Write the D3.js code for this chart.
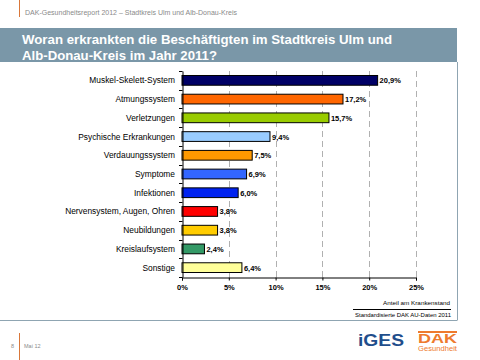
<!DOCTYPE html>
<html><head><meta charset="utf-8">
<script src="https://cdn.jsdelivr.net/npm/d3@7"></script>
<style>
html,body{margin:0;padding:0;background:#fff;}
svg{display:block;font-family:"Liberation Sans",Arial,sans-serif;}
</style></head>
<body>
<svg id="c" width="480" height="360"></svg>
<script>
const categories = ["Muskel-Skelett-System","Atmungssystem","Verletzungen","Psychische Erkrankungen","Verdauungssystem","Symptome","Infektionen","Nervensystem, Augen, Ohren","Neubildungen","Kreislaufsystem","Sonstige"];
const values = [20.9,17.2,15.7,9.4,7.5,6.9,6.0,3.8,3.8,2.4,6.4];
const colors = ["#000066","#FF6600","#99CC00","#99CCFF","#FF9900","#3366FF","#0022F0","#FF0000","#FFCC00","#339966","#FFFF99"];
const ticks = [0,5,10,15,20,25];
const titleLines = ["Woran erkrankten die Beschäftigten im Stadtkreis Ulm und","Alb-Donau-Kreis im Jahr 2011?"];
const headerText = "DAK-Gesundheitsreport 2012 – Stadtkreis Ulm und Alb-Donau-Kreis";
const noteTop = "Anteil am Krankenstand";
const noteBottom = "Standardisierte DAK AU-Daten 2011";

const svg = d3.select("#c");
const fmt = v => d3.format(".1f")(v).replace(".", ",") + "%";

// header
svg.append("line").attr("x1",19.5).attr("x2",19.5).attr("y1",0).attr("y2",17).attr("stroke","#d9773a").attr("stroke-width",1);
svg.append("text").attr("x",25).attr("y",15).attr("font-size",6.5).attr("fill","#8a8a8a")
  .attr("textLength",212).attr("lengthAdjust","spacingAndGlyphs").text(headerText);

// title band
svg.append("rect").attr("x",0).attr("y",28).attr("width",457).attr("height",34).attr("fill","#7a97a8");
svg.selectAll("text.title").data(titleLines).join("text").attr("class","title")
  .attr("x",22).attr("y",(d,i)=>44+i*16).attr("font-size",13).attr("font-weight","bold").attr("fill","#fff")
  .attr("textLength",(d,i)=>i===0?370:195).attr("lengthAdjust","spacingAndGlyphs").text(d=>d);

// frame lines
svg.append("line").attr("x1",457.5).attr("x2",457.5).attr("y1",62).attr("y2",320).attr("stroke","#8fa5b2");
svg.append("line").attr("x1",0).attr("x2",457.5).attr("y1",320.5).attr("y2",320.5).attr("stroke","#8fa5b2");

// chart
const x = d3.scaleLinear().domain([0,25]).range([182,416]);
const y = d3.scaleBand().domain(categories).range([71,277]).paddingInner(0.48).paddingOuter(0.24);

// grid
svg.append("g").selectAll("line").data(ticks.slice(1)).join("line")
  .attr("x1",d=>Math.round(x(d))+0.5).attr("x2",d=>Math.round(x(d))+0.5).attr("y1",71).attr("y2",277)
  .attr("stroke","#b0b0b0").attr("stroke-dasharray","6,4");

// bars
svg.append("g").selectAll("rect").data(values).join("rect")
  .attr("x",x(0)).attr("y",(d,i)=>y(categories[i])).attr("width",d=>x(d)-x(0)).attr("height",y.bandwidth())
  .attr("fill",(d,i)=>colors[i]).attr("stroke","#000").attr("stroke-width",1);

// value labels
svg.append("g").selectAll("text").data(values).join("text")
  .attr("x",d=>x(d)+2).attr("y",(d,i)=>y(categories[i])+y.bandwidth()/2+3)
  .attr("font-size",7.5).attr("font-weight","bold").attr("fill","#000").text(d=>fmt(d));

// y axis
const yAxis = d3.axisLeft(y).tickSize(0).tickFormat("");
const gy = svg.append("g").attr("transform","translate(182.5,0)").call(yAxis);
gy.select(".domain").attr("stroke","#000");
const bounds = categories.map(c=>y(c)-y.step()*y.paddingInner()/2).concat([277]);
svg.append("g").selectAll("line").data(bounds).join("line")
  .attr("x1",179).attr("x2",182.5).attr("y1",d=>Math.round(d)+0.5).attr("y2",d=>Math.round(d)+0.5).attr("stroke","#000");
svg.append("g").selectAll("text").data(categories).join("text")
  .attr("x",175).attr("y",c=>y(c)+y.bandwidth()/2+3).attr("text-anchor","end")
  .attr("font-size",8.4).attr("fill","#000").text(c=>c);

// x axis
const xAxis = d3.axisBottom(x).tickValues(ticks).tickSize(3).tickFormat(d=>d+"%");
const gx = svg.append("g").attr("transform","translate(0,277.5)").call(xAxis);
gx.select(".domain").attr("stroke","#000");
gx.selectAll(".tick line").attr("stroke","#000");
gx.selectAll(".tick text").attr("font-size",7.5).attr("font-weight","bold").attr("fill","#000").attr("dy",0).attr("y",12)
  .attr("font-family","'Liberation Sans',Arial,sans-serif");

// notes
svg.append("text").attr("x",450).attr("y",305).attr("text-anchor","end").attr("font-size",6).attr("fill","#000")
  .attr("textLength",67).attr("lengthAdjust","spacingAndGlyphs").text(noteTop);
svg.append("line").attr("x1",353).attr("x2",451).attr("y1",309.5).attr("y2",309.5).attr("stroke","#000");
svg.append("text").attr("x",451).attr("y",317).attr("text-anchor","end").attr("font-size",5.5).attr("fill","#000")
  .attr("textLength",96).attr("lengthAdjust","spacingAndGlyphs").text(noteBottom);

// footer
svg.append("text").attr("x",11).attr("y",348).attr("font-size",5.5).attr("fill","#8a8a8a").text("8");
svg.append("line").attr("x1",19.5).attr("x2",19.5).attr("y1",333).attr("y2",360).attr("stroke","#d9773a");
svg.append("text").attr("x",24).attr("y",348).attr("font-size",5.5).attr("fill","#8a8a8a").text("Mai 12");

// logos
svg.append("text").attr("x",358).attr("y",346).attr("font-size",17).attr("font-weight","bold").attr("fill","#1f4e8c")
  .attr("textLength",46).attr("lengthAdjust","spacingAndGlyphs").text("iGES");
svg.append("rect").attr("x",418).attr("y",331).attr("width",39).attr("height",2).attr("fill","#ee7a2e");
svg.append("text").attr("x",418).attr("y",343).attr("font-size",12).attr("font-weight","bold").attr("fill","#ee7a2e")
  .attr("textLength",39).attr("lengthAdjust","spacingAndGlyphs").text("DAK");
svg.append("text").attr("x",418).attr("y",351).attr("font-size",7).attr("fill","#ee7a2e")
  .attr("textLength",39).attr("lengthAdjust","spacingAndGlyphs").text("Gesundheit");
</script>
</body></html>
